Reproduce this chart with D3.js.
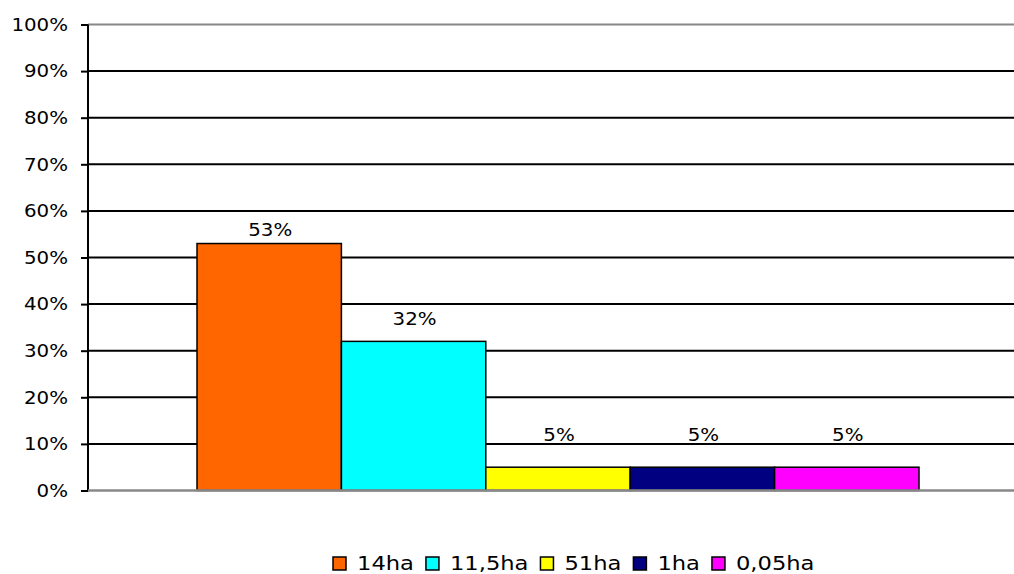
<!DOCTYPE html>
<html><head><meta charset="utf-8">
<script src="https://cdn.jsdelivr.net/npm/d3@7"></script>
<style>body{margin:0;background:#fff}svg{display:block}text{font-family:"DejaVu Sans",Verdana,sans-serif;fill:#000}</style>
</head><body><svg id="c" width="1014" height="574"></svg>
<script>
const categories = ["14ha", "11,5ha", "51ha", "1ha", "0,05ha"];
const values = [53, 32, 5, 5, 5];
const colors = ["#FF6600", "#00FFFF", "#FFFF00", "#000080", "#FF00FF"];
const yTicks = [0, 10, 20, 30, 40, 50, 60, 70, 80, 90, 100];

const svg = d3.select("#c");
const y = d3.scaleLinear().domain([0, 100]).range([490.5, 24.5]);
const x = d3.scaleBand().domain(categories).range([197, 919]).padding(0);
const fs = 18, sx = 1.1;

// gridlines
svg.append("g").selectAll("line").data(yTicks.filter(t => t > 0)).join("line")
  .attr("x1", 88).attr("x2", 1014).attr("y1", d => y(d)).attr("y2", d => y(d))
  .attr("stroke", d => d === 100 ? "#888" : "#000").attr("stroke-width", 2);

// y axis
const ya = svg.append("g").attr("transform", "translate(88,0)")
  .call(d3.axisLeft(y).tickValues(yTicks).tickFormat(d => d + "%").tickSize(7).tickPadding(0));
ya.select(".domain").remove();
ya.selectAll(".tick line").attr("stroke", "#000").attr("stroke-width", 2);
ya.selectAll(".tick text").attr("font-size", fs).attr("font-family", "DejaVu Sans")
  .attr("fill", "#000").attr("x", -20 / sx).attr("transform", `scale(${sx},1)`);
svg.append("line").attr("x1", 88).attr("x2", 88).attr("y1", y(100)).attr("y2", y(0) + 1)
  .attr("stroke", "#000").attr("stroke-width", 2);

// bars
svg.append("g").selectAll("rect").data(values).join("rect")
  .attr("x", (d, i) => x(categories[i]))
  .attr("y", d => y(d))
  .attr("width", x.bandwidth())
  .attr("height", d => y(0) - y(d))
  .attr("fill", (d, i) => colors[i])
  .attr("stroke", "#000").attr("stroke-width", 1.5);

// x axis baseline (gray)
svg.append("line").attr("x1", 88).attr("x2", 1014).attr("y1", y(0)).attr("y2", y(0))
  .attr("stroke", "#888").attr("stroke-width", 2.5);

// value labels
svg.append("g").selectAll("text").data(values).join("text")
  .attr("transform", (d, i) => `translate(${x(categories[i]) + x.bandwidth() / 2 + 1},${y(0.917 * d + 6.1)}) scale(${sx},1)`)
  .attr("text-anchor", "middle").attr("font-size", fs)
  .text(d => d + "%");

// legend
const lsx = 1.19;
const lg = svg.append("g");
let lx = 333;
categories.forEach((c, i) => {
  lg.append("rect").attr("x", lx).attr("y", 557).attr("width", 13).attr("height", 13)
    .attr("fill", colors[i]).attr("stroke", "#000").attr("stroke-width", 1.5);
  const t = lg.append("text").attr("transform", `translate(${lx + 24},570) scale(${lsx},1)`)
    .attr("font-size", 19).text(c);
  lx += 24 + t.node().getComputedTextLength() * lsx + 12;
});
</script></body></html>
